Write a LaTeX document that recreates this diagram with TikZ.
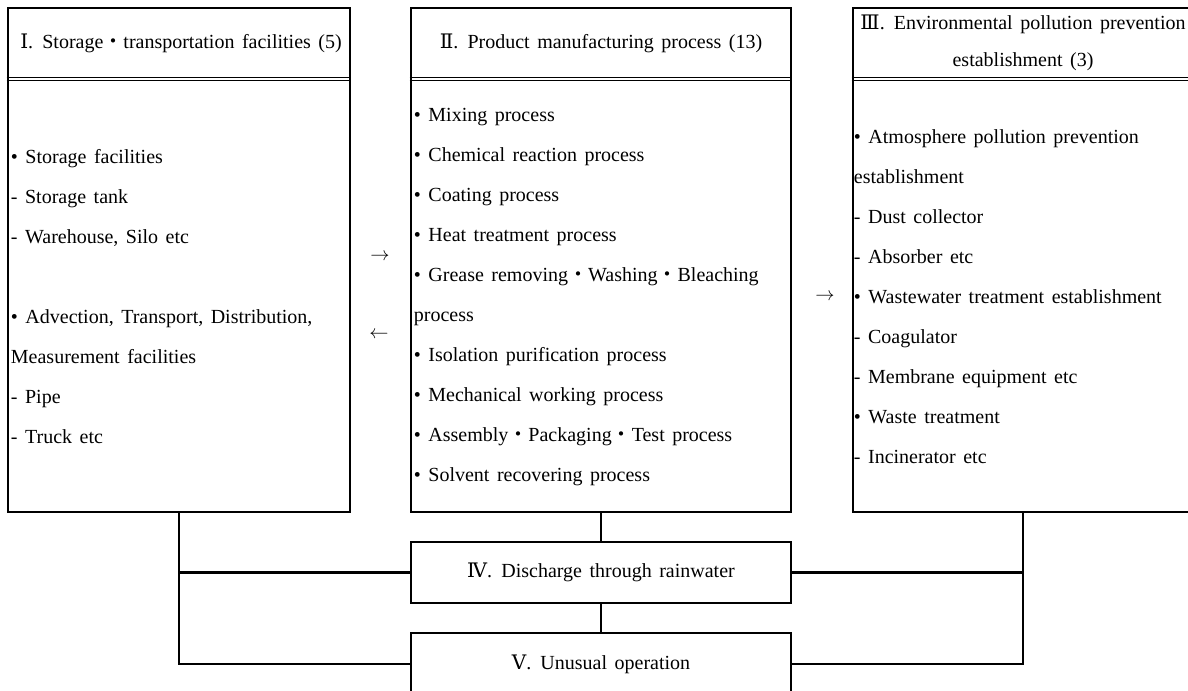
\documentclass[tikz,border=0pt]{standalone}
\usepackage{fontspec}
\setmainfont{Liberation Serif}[WordSpace=1.5]
\newfontfamily\numfont{DejaVu Serif}
\newfontfamily\cjk{Noto Sans CJK KR}
\usetikzlibrary{positioning,calc}
\newcommand{\rn}[1]{{\numfont #1}}
\newcommand{\dt}{{\cjk ・}}

\begin{document}
\begin{tikzpicture}[
    x=0.75pt, y=-0.75pt,
    every node/.style={font=\fontsize{15}{30}\selectfont, inner sep=0pt},
    panel/.style={draw, line width=2pt},
    headrule/.style={line width=0.9pt},
    link/.style={line width=2pt},
    body/.style={anchor=west, align=left},
]
\useasboundingbox (0,0) rectangle (1188,690);
\coordinate (sepline) at (0,79);
\coordinate (bodymid) at (0,297);

% I
\node[panel, minimum width=342*0.75pt, minimum height=504*0.75pt] (storage) at (179,260) {};
\node (storagehead) at (181,43) {\rn{Ⅰ}. Storage\dt transportation facilities (5)};
\node[body] (storagelist) at ([xshift=3pt]storage.west |- bodymid) {%
  • Storage facilities\\
  - Storage tank\\
  - Warehouse, Silo etc\\[30pt]
  • Advection, Transport, Distribution,\\
  Measurement facilities\\
  - Pipe\\
  - Truck etc};

% II
\node[panel, minimum width=380*0.75pt, minimum height=504*0.75pt] (process) at (601,260) {};
\node (processhead) at (601,43) {\rn{Ⅱ}. Product manufacturing process (13)};
\node[body] (processlist) at ([xshift=3pt]process.west |- bodymid) {%
  • Mixing process\\
  • Chemical reaction process\\
  • Coating process\\
  • Heat treatment process\\
  • Grease removing\dt Washing\dt Bleaching\\
  process\\
  • Isolation purification process\\
  • Mechanical working process\\
  • Assembly\dt Packaging\dt Test process\\
  • Solvent recovering process};

% III
\node[panel, minimum width=340*0.75pt, minimum height=504*0.75pt] (pollution) at (1023,260) {};
\node[align=center] (pollutionhead) at (1023,43) {\rn{Ⅲ}. Environmental pollution prevention\\[-2pt] establishment (3)};
\node[body] (pollutionlist) at ([xshift=1.5pt]pollution.west |- bodymid) {%
  • Atmosphere pollution prevention\\
  establishment\\
  - Dust collector\\
  - Absorber etc\\
  • Wastewater treatment establishment\\
  - Coagulator\\
  - Membrane equipment etc\\
  • Waste treatment\\
  - Incinerator etc};

% double rule under each heading
\foreach \p in {storage,process,pollution} {
  \foreach \d in {-1.2,1.2}
    \draw[headrule] ([yshift=\d pt]\p.west |- sepline) -- ([yshift=\d pt]\p.east |- sepline);
}

% between the panels
\node (fwd) at (380,257) {$\rightarrow$};
\node (back) at (379,335) {$\leftarrow$};
\node (fwdtwo) at (825,297) {$\rightarrow$};

% IV, V
\node[panel, minimum width=380*0.75pt, minimum height=61*0.75pt] (discharge) at (601,572.5) {\rn{Ⅳ}. Discharge through rainwater};
\node[panel, minimum width=380*0.75pt, minimum height=62*0.75pt] (unusual) at (601,664) {\rn{Ⅴ}. Unusual operation};

% links
\draw[link] (process.south) -- (discharge.north);
\draw[link] (discharge.south) -- (unusual.north);
\draw[link] (storage.south) |- (unusual.west);
\draw[link] (storage.south |- discharge.west) -- (discharge.west);
\draw[link] (pollution.south) |- (unusual.east);
\draw[link] (pollution.south |- discharge.east) -- (discharge.east);

\end{tikzpicture}
\end{document}
